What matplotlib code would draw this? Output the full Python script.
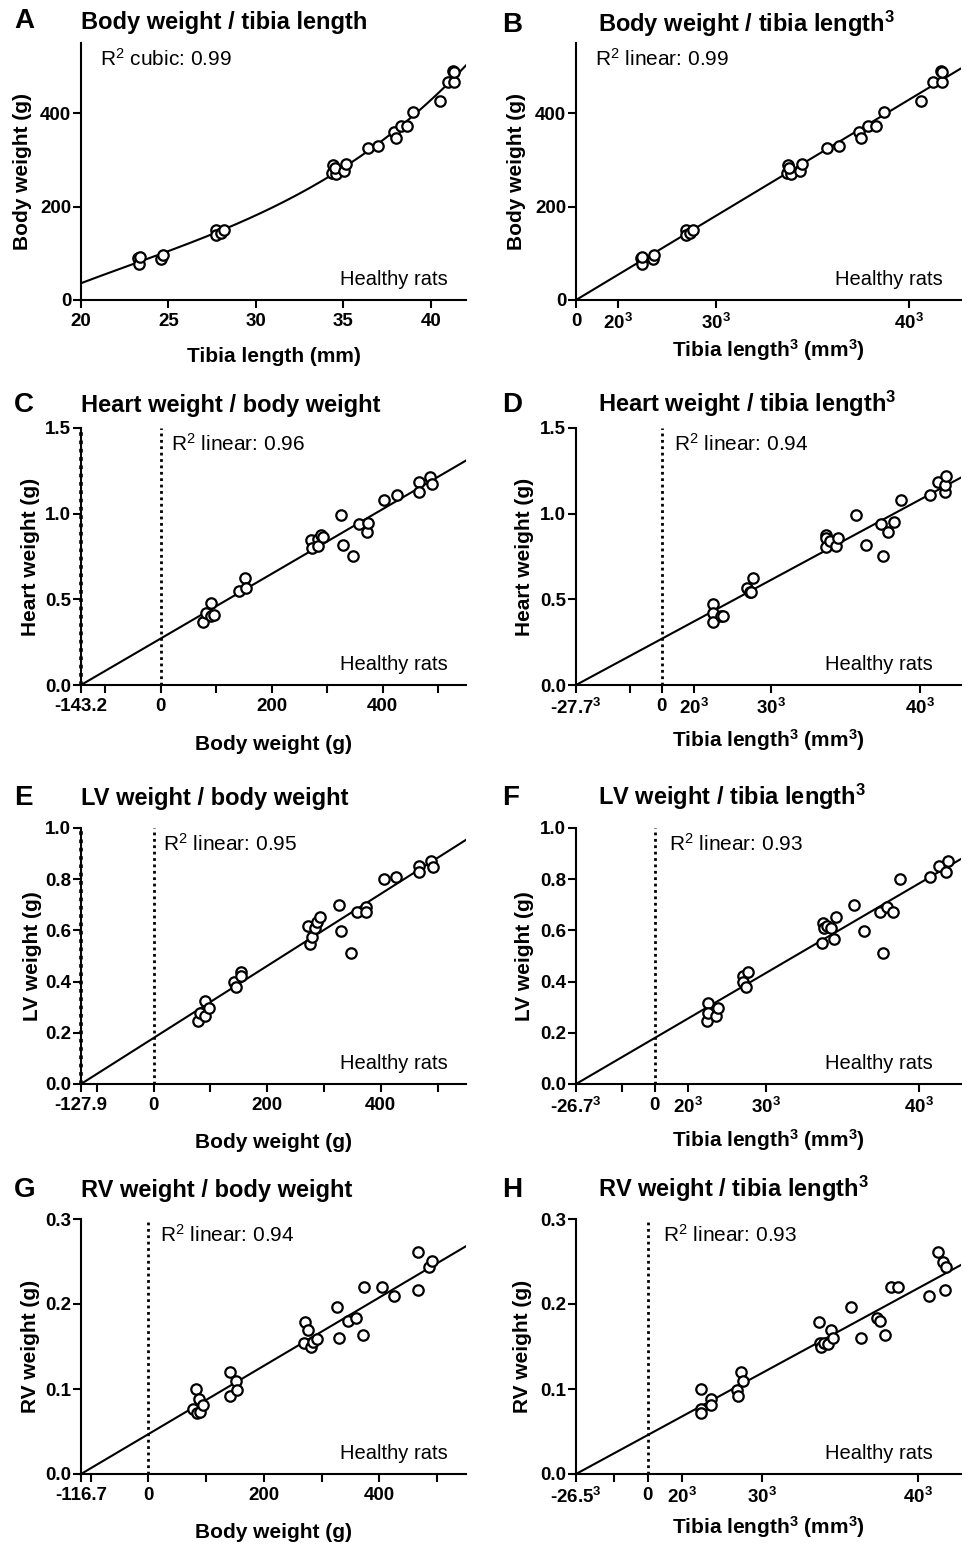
import matplotlib
matplotlib.use("Agg")
import matplotlib.pyplot as plt
import numpy as np

plt.rcParams['font.family'] = ['Liberation Sans', 'DejaVu Sans']
plt.rcParams['mathtext.fontset'] = 'custom'
plt.rcParams['mathtext.rm'] = 'Liberation Sans'
plt.rcParams['mathtext.it'] = 'Liberation Sans:italic'
plt.rcParams['mathtext.bf'] = 'Liberation Sans:bold'

# A / B: tibia length (mm) vs body weight (g)
tibia_ab = [23.25, 23.3, 23.35, 24.6, 24.7, 27.7, 27.7, 28.0, 28.2, 34.4, 34.35, 34.6,
            34.5, 35.05, 35.15, 36.4, 37.0, 37.9, 38.0, 38.3, 38.65, 39.0, 40.5, 40.95,
            41.3, 41.25, 41.3]
bw_ab = [89, 77, 92, 87, 96, 150, 140, 143, 150, 288, 272, 270,
         283, 277, 291, 325, 329, 359, 347, 372, 373, 403, 426, 466,
         466, 490, 488]

# C: body weight (g) vs heart weight (g)
bw_c = [76.9, 81.7, 90.1, 90.1, 96.1, 140.5, 152, 153, 270.9, 272, 282.9, 282.9, 288.3,
        293, 325, 329, 347, 358, 371.5, 373.6, 403, 425, 466, 466, 485, 489.5]
hw_c = [0.369, 0.422, 0.476, 0.402, 0.41, 0.549, 0.625, 0.569, 0.847, 0.8, 0.853, 0.814,
        0.876, 0.863, 0.99, 0.82, 0.755, 0.937, 0.892, 0.947, 1.078, 1.108, 1.186, 1.127,
        1.216, 1.175]

# D: tibia length (mm, plotted cubed) vs heart weight (g)
tibia_d = [23.34, 23.34, 23.34, 24.5, 24.75, 27.68, 27.96, 28.1, 28.24, 34.37, 34.37,
           34.37, 34.64, 35.1, 35.23, 36.34, 36.96, 37.88, 38.0, 38.26, 38.6, 38.97,
           40.48, 40.9, 41.22, 41.22, 41.31]
hw_d = [0.475, 0.422, 0.369, 0.402, 0.402, 0.569, 0.545, 0.545, 0.624, 0.873, 0.857,
        0.804, 0.843, 0.81, 0.857, 0.99, 0.82, 0.937, 0.755, 0.892, 0.951, 1.078,
        1.108, 1.186, 1.127, 1.17, 1.22]

# E: body weight (g) vs LV weight (g)
bw_e = [78.3, 82.4, 90.0, 90.0, 97.1, 141.2, 144.2, 153, 153, 271.8, 275.3, 279.4, 283.6,
        288.3, 292.9, 326.5, 330.7, 347.1, 358.9, 373.6, 374.8, 404.8, 426.5, 467.6,
        467.6, 488.3, 491.2]
lv_e = [0.248, 0.279, 0.326, 0.267, 0.296, 0.40, 0.377, 0.439, 0.42, 0.619, 0.548, 0.574,
        0.609, 0.631, 0.652, 0.699, 0.598, 0.51, 0.67, 0.691, 0.67, 0.80, 0.808, 0.85,
        0.829, 0.871, 0.847]

# F: tibia length (mm, plotted cubed) vs LV weight (g)
tibia_f = [23.28, 23.38, 23.38, 24.6, 24.78, 27.71, 27.71, 28.06, 28.23, 34.33, 34.4,
           34.47, 34.68, 34.94, 35.16, 35.27, 36.4, 36.99, 37.9, 38.07, 38.32, 38.63,
           38.99, 40.52, 40.96, 41.29, 41.38]
lv_f = [0.248, 0.318, 0.279, 0.267, 0.296, 0.42, 0.40, 0.378, 0.437, 0.55, 0.628, 0.609,
        0.619, 0.609, 0.567, 0.651, 0.699, 0.598, 0.67, 0.51, 0.69, 0.67, 0.80, 0.81,
        0.85, 0.829, 0.872]

# G: body weight (g) vs RV weight (g)
bw_g = [77.9, 82.6, 84.8, 88.3, 89.5, 95.2, 141.5, 141.5, 151.9, 153, 271.3, 277.1, 270.2,
        281.7, 285.7, 291.6, 326.2, 330.2, 346.3, 359.1, 372.3, 374.1, 404.2, 426,
        466.5, 466.5, 486.6, 490.7]
rv_g = [0.0767, 0.0997, 0.0712, 0.0888, 0.0724, 0.081, 0.120, 0.0923, 0.1095, 0.0986,
        0.179, 0.170, 0.154, 0.150, 0.155, 0.159, 0.196, 0.160, 0.1795, 0.184, 0.164,
        0.220, 0.220, 0.209, 0.261, 0.2167, 0.244, 0.251]

# H: tibia length (mm, plotted cubed) vs RV weight (g)
tibia_h = [23.2, 23.2, 23.3, 24.58, 24.67, 27.66, 27.72, 28.0, 28.2, 34.35, 34.4, 34.46,
           34.68, 34.9, 35.1, 35.26, 36.35, 36.94, 37.85, 38.0, 38.3, 38.6, 38.96, 40.5,
           40.93, 41.2, 41.27, 41.34]
rv_h = [0.0997, 0.0767, 0.0712, 0.0888, 0.081, 0.0986, 0.0923, 0.120, 0.1095, 0.179,
        0.154, 0.149, 0.1545, 0.153, 0.170, 0.160, 0.196, 0.160, 0.184, 0.1795, 0.164,
        0.220, 0.220, 0.2097, 0.261, 0.250, 0.2167, 0.243]

# linear fits: x where the line meets y = 0, and slope
fit_x0 = {'B': 0, 'C': -143.2, 'D': -27.7 ** 3, 'E': -127.9, 'F': -26.7 ** 3,
          'G': -116.7, 'H': -17000}
fit_slope = {'B': 0.00669, 'C': 0.00189, 'D': 1.27e-5, 'E': 0.001407, 'F': 9.44e-6,
             'G': 0.000402, 'H': 2.70e-6}
cube = r'$^\mathbf{3}$'
x0_labels = {'C': '-143.2', 'D': '-27.7' + cube, 'E': '-127.9',
             'F': '-26.7' + cube, 'G': '-116.7', 'H': '-26.5' + cube}
cube_labels = ['0', '20' + cube, '30' + cube, '40' + cube]
r2_text = {'A': r'R$^2$ cubic: 0.99', 'B': r'R$^2$ linear: 0.99', 'C': r'R$^2$ linear: 0.96',
           'D': r'R$^2$ linear: 0.94', 'E': r'R$^2$ linear: 0.95', 'F': r'R$^2$ linear: 0.93',
           'G': r'R$^2$ linear: 0.94', 'H': r'R$^2$ linear: 0.93'}
titles = {'A': 'Body weight / tibia length', 'B': 'Body weight / tibia length' + cube,
          'C': 'Heart weight / body weight', 'D': 'Heart weight / tibia length' + cube,
          'E': 'LV weight / body weight', 'F': 'LV weight / tibia length' + cube,
          'G': 'RV weight / body weight', 'H': 'RV weight / tibia length' + cube}
ylabels = {'A': 'Body weight (g)', 'B': 'Body weight (g)', 'C': 'Heart weight (g)',
           'D': 'Heart weight (g)', 'E': 'LV weight (g)', 'F': 'LV weight (g)',
           'G': 'RV weight (g)', 'H': 'RV weight (g)'}

W, H = 967, 1547
fig = plt.figure(figsize=(W / 100, H / 100), dpi=100)

LW = 1.5
tops = [43, 428, 828, 1219]
bottoms = [300, 685, 1084, 1474]
lefts = [81, 576]
title_base = [[28.5, 31.5], [412, 412], [805, 805], [1197, 1197]]
title_x = [81, 598]
letter_x = [14, 502]

ylims = [(0, 550), (0, 1.5), (0, 1.0), (0, 0.3)]
yticks = [[0, 200, 400], [0, 0.5, 1.0, 1.5], [0, 0.2, 0.4, 0.6, 0.8, 1.0],
          [0, 0.1, 0.2, 0.3]]
yfmt = ['{:.0f}', '{:.1f}', '{:.1f}', '{:.1f}']

data = {
    'A': (np.array(tibia_ab), np.array(bw_ab)),
    'B': (np.array(tibia_ab) ** 3, np.array(bw_ab)),
    'C': (np.array(bw_c), np.array(hw_c)),
    'D': (np.array(tibia_d) ** 3, np.array(hw_d)),
    'E': (np.array(bw_e), np.array(lv_e)),
    'F': (np.array(tibia_f) ** 3, np.array(lv_f)),
    'G': (np.array(bw_g), np.array(rv_g)),
    'H': (np.array(tibia_h) ** 3, np.array(rv_h)),
}
r2_dx = {'A': 19, 'B': 19, 'C': 10, 'D': 12, 'E': 9, 'F': 14, 'G': 12, 'H': 15}
xlab_off = {'A': 56, 'B': 50, 'C': 60, 'D': 55, 'E': 59, 'F': 56, 'G': 59, 'H': 53}
ylab_off = {'A': 58, 'B': 59, 'C': 51, 'D': 51, 'E': 49, 'F': 51, 'G': 51, 'H': 54}

for i, key in enumerate('ABCDEFGH'):
    row, col = i // 2, i % 2
    top, bot, left = tops[row], bottoms[row], lefts[col]
    ax = fig.add_axes([left / W, 1 - bot / H, 385 / W, (bot - top) / H])
    x, y = data[key]

    if key == 'A':
        xmin, xmax = 20, 42
        coef = np.polyfit(x, y, 3)
        xx = np.linspace(xmin, xmax, 200)
        ax.plot(xx, np.polyval(coef, xx), color='black', lw=LW, zorder=2)
        ax.set_xticks([20, 25, 30, 35, 40])
        ax.set_xticklabels(['20', '25', '30', '35', '40'])
    else:
        xmin = fit_x0[key]
        xmax = 550 if col == 0 else 42 ** 3
        ax.plot([xmin, xmax], [0, fit_slope[key] * (xmax - xmin)], color='black',
                lw=LW, zorder=2)
        if key == 'B':
            ax.set_xticks([0, 8000, 27000, 64000])
            ax.set_xticklabels(cube_labels)
        elif col == 0:
            ax.set_xticks([xmin, -100, 0, 100, 200, 300, 400, 500])
            ax.set_xticklabels([x0_labels[key], '', '0', '', '200', '', '400', ''])
        else:
            ax.set_xticks([xmin, -8000, 0, 8000, 27000, 64000])
            ax.set_xticklabels([x0_labels[key], ''] + cube_labels)
        if key != 'B':
            ax.plot([0, 0], [0, ylims[row][1]], color='black', lw=2, ls=(0, (1, 1.3)),
                    zorder=1)
        if key in ('C', 'E'):
            ax.plot([xmin, xmin], [0, ylims[row][1]], color='black', lw=2.6,
                    ls=(0, (1, 1.3)), zorder=1, clip_on=False)

    ax.plot(x, y, 'o', mfc='white', mec='black', ms=7.5, mew=1.6, zorder=3, clip_on=False)

    ax.set_xlim(xmin, xmax)
    ax.set_ylim(*ylims[row])
    ax.set_yticks(yticks[row])
    ax.set_yticklabels([yfmt[row].format(v) for v in yticks[row]])

    for s in ('top', 'right'):
        ax.spines[s].set_visible(False)
    for s in ('left', 'bottom'):
        ax.spines[s].set_linewidth(LW)
    ax.tick_params(width=LW, length=5.5, labelsize=13.5)
    ax.tick_params(axis='x', pad=4)
    ax.tick_params(axis='y', pad=1.5)
    for lab in ax.get_xticklabels() + ax.get_yticklabels():
        lab.set_fontweight('bold')

    ax.set_xlabel('Tibia length (mm)' if key == 'A' else
                  ('Body weight (g)' if col == 0 else 'Tibia length' + cube + ' (mm' + cube + ')'),
                  fontsize=15, fontweight='bold')
    ax.xaxis.set_label_coords(0.5, -xlab_off[key] / (bot - top))
    ax.xaxis.label.set_va('center')
    ax.set_ylabel(ylabels[key], fontsize=15, fontweight='bold')
    ax.yaxis.set_label_coords(-ylab_off[key] / 385, 0.5)
    ax.yaxis.label.set_va('center')

    # R² annotation and group label
    x_ref = xmin if key in ('A', 'B') else 0
    ax.annotate(r2_text[key], xy=(x_ref, 1), xycoords=('data', 'axes fraction'),
                xytext=(r2_dx[key], -23), textcoords='offset pixels',
                fontsize=15, ha='left', va='baseline')
    ax.annotate('Healthy rats', xy=(1, 0), xycoords='axes fraction',
                xytext=(-18 if key in 'ABCEG' else -28, 15), textcoords='offset pixels',
                fontsize=14.5, ha='right', va='baseline')

    fig.text(letter_x[col] / W, 1 - title_base[row][col] / H, key, fontsize=20,
             fontweight='bold', ha='left', va='baseline')
    fig.text(title_x[col] / W, 1 - title_base[row][col] / H, titles[key], fontsize=17,
             fontweight='bold', ha='left', va='baseline')

fig.savefig('out.png', dpi=100)
